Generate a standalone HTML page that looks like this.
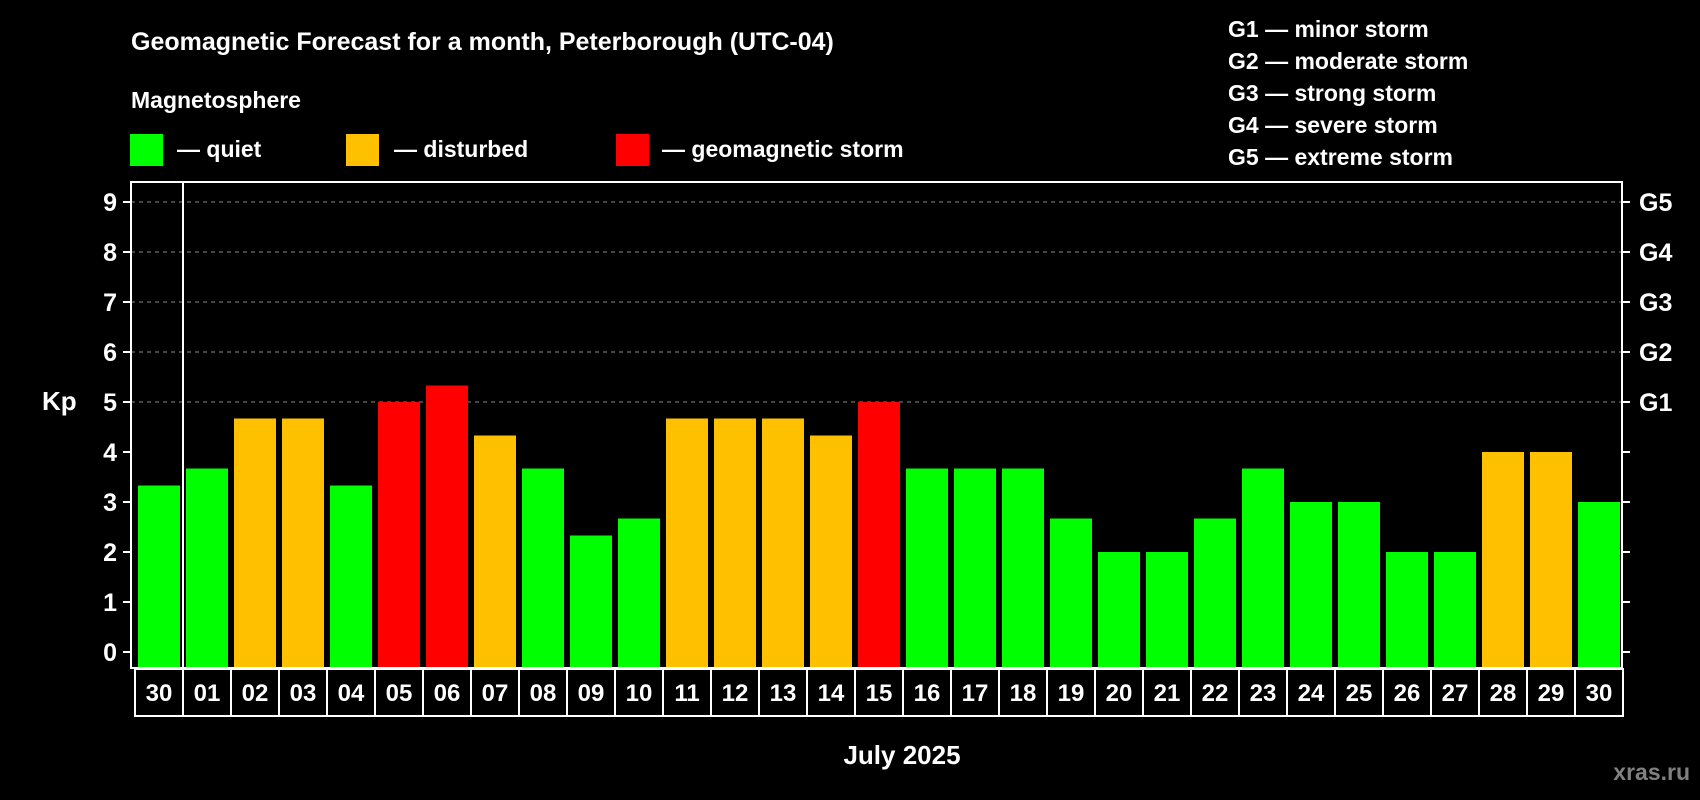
<!DOCTYPE html>
<html><head><meta charset="utf-8"><style>
body{margin:0;background:#000;width:1700px;height:800px;overflow:hidden}
svg{display:block;font-family:"Liberation Sans",sans-serif;font-weight:bold}
</style></head><body>
<svg id="chart" width="1700" height="800">
<rect width="1700" height="800" fill="#000"/>
<text x="131" y="50" font-size="25" fill="#fff">Geomagnetic Forecast for a month, Peterborough (UTC-04)</text>
<text x="131" y="108" font-size="23" fill="#fff">Magnetosphere</text>
<g><rect x="130" y="134" width="33" height="32" fill="#00ff00"/><text x="177" y="157" font-size="23" fill="#fff">— quiet</text></g>
<g><rect x="346" y="134" width="33" height="32" fill="#ffc000"/><text x="394" y="157" font-size="23" fill="#fff">— disturbed</text></g>
<g><rect x="616" y="134" width="33" height="32" fill="#ff0000"/><text x="662" y="157" font-size="23" fill="#fff">— geomagnetic storm</text></g>
<g font-size="23" fill="#fff">
<text x="1228" y="37">G1 — minor storm</text>
<text x="1228" y="69">G2 — moderate storm</text>
<text x="1228" y="101">G3 — strong storm</text>
<text x="1228" y="133">G4 — severe storm</text>
<text x="1228" y="165">G5 — extreme storm</text>
</g>
<text x="42" y="410" font-size="26" fill="#fff">Kp</text>
<g id="grid"></g><g id="bars"></g><g id="axes"></g><g id="xlabels"></g>
<text x="902" y="764" font-size="26" fill="#fff" text-anchor="middle">July 2025</text>
<text x="1690" y="780" font-size="23" fill="#808080" text-anchor="end">xras.ru</text>
</svg>
<script>
const days=["30","01","02","03","04","05","06","07","08","09","10","11","12","13","14","15","16","17","18","19","20","21","22","23","24","25","26","27","28","29","30"];
const kp=[3.33,3.67,4.67,4.67,3.33,5,5.33,4.33,3.67,2.33,2.67,4.67,4.67,4.67,4.33,5,3.67,3.67,3.67,2.67,2,2,2.67,3.67,3,3,2,2,4,4,3];
const levels=["quiet","disturbed","quiet","disturbed","storm"];
const yTicks=[0,1,2,3,4,5,6,7,8,9];
const gLabels=["G1","G2","G3","G4","G5"];
const NS="http://www.w3.org/2000/svg";
const L=131,R=1622,T=182,B=668;
const y=v=>652-50*v;
const x=i=>138+48*i;
const BW=42;
function mk(tag,attrs,parent){const e=document.createElementNS(NS,tag);for(const k in attrs)e.setAttribute(k,attrs[k]);parent.appendChild(e);return e;}
function color(v){return v>=5?"#ff0000":(v>=4?"#ffc000":"#00ff00");}
const grid=document.getElementById("grid"),bars=document.getElementById("bars"),axes=document.getElementById("axes"),xl=document.getElementById("xlabels");
yTicks.forEach(t=>{
  if(t>=5){const g=mk("line",{x1:L,x2:R,y1:y(t),y2:y(t),stroke:"#888","stroke-width":1,"stroke-dasharray":"4 4"},grid);
  
  }
  const tl=mk("line",{x1:L-8,x2:L,y1:y(t),y2:y(t),stroke:"#fff","stroke-width":2},axes);
  
  
  const tr=mk("line",{x1:R,x2:R+8,y1:y(t),y2:y(t),stroke:"#fff","stroke-width":2},axes);
  
  
  const lb=mk("text",{x:L-14,y:y(t)+9,"font-size":25,fill:"#fff","text-anchor":"end"},axes);
  lb.textContent=t;
  
  
});
gLabels.forEach((g,i)=>{
  const t=mk("text",{x:R+17,y:y(5+i)+9,"font-size":25,fill:"#fff"},axes);
  t.textContent=g;
  
  
});
kp.forEach((v,i)=>{
  const r=mk("rect",{x:x(i),y:y(v),width:BW,height:B-y(v),fill:color(v)},bars);
  
  
});
const fr=mk("rect",{x:L,y:T,width:R-L,height:B-T,fill:"none",stroke:"#fff","stroke-width":2},axes);


const dv=mk("line",{x1:183,x2:183,y1:T,y2:B,stroke:"#fff","stroke-width":2},axes);


days.forEach((d,i)=>{
  const bx=mk("rect",{x:135+48*i,y:669,width:48,height:47,fill:"none",stroke:"#fff","stroke-width":2},xl);
  
  
  const t=mk("text",{x:135+48*i+24,y:701,"font-size":24,fill:"#fff","text-anchor":"middle"},xl);
  t.textContent=d;
  
  
});
</script>
</body></html>
